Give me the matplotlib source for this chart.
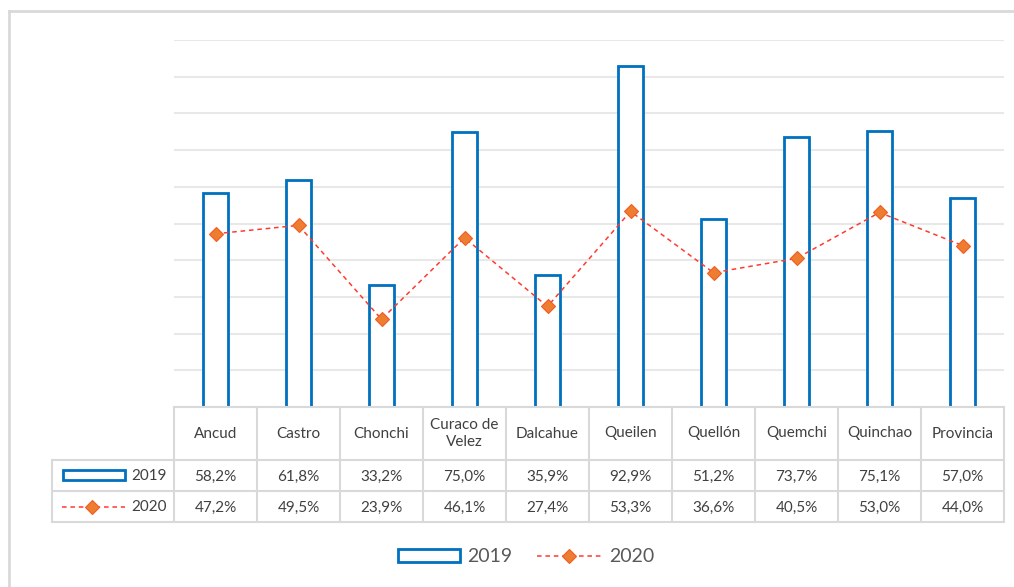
import matplotlib
matplotlib.use('Agg')
import matplotlib.pyplot as plt
from matplotlib.lines import Line2D
from matplotlib.patches import Rectangle
import matplotlib.transforms as mtrans

categories = ["Ancud", "Castro", "Chonchi", "Curaco de\nVelez", "Dalcahue",
              "Queilen", "Quellón", "Quemchi", "Quinchao", "Provincia"]
values_2019 = [58.2, 61.8, 33.2, 75.0, 35.9, 92.9, 51.2, 73.7, 75.1, 57.0]
values_2020 = [47.2, 49.5, 23.9, 46.1, 27.4, 53.3, 36.6, 40.5, 53.0, 44.0]
series_labels = ["2019", "2020"]

plt.rcParams['font.family'] = ['Lato', 'DejaVu Sans']

W, H = 1014, 587
fig = plt.figure(figsize=(W / 100, H / 100), dpi=100)


def fx(x):
    return x / W


def fy(y):
    return 1 - y / H


BLUE = '#0070C0'
LINE_RED = '#FF3B2F'
ORANGE = '#ED7D31'
GRID = '#e8e8e8'
TABLE = '#d9d9d9'
TXT = '#404040'

line_style = dict(linestyle=(0, (3, 2.5)), color=LINE_RED, lw=1.1)
marker_style = dict(marker='D', ms=7.5, mfc=ORANGE, mec='#F25C22', mew=0.8)

ax = fig.add_axes([fx(174), fy(407), fx(1004) - fx(174), fy(40) - fy(407)])
xs = list(range(len(categories)))
ax.bar(xs, values_2019, width=0.31, facecolor='white', edgecolor=BLUE,
       linewidth=2, zorder=3)
ax.plot(xs, values_2020, zorder=4, **line_style, **marker_style)
ax.set_xlim(-0.5, len(categories) - 0.5)
ax.set_ylim(0, 100)
ax.set_yticks(range(10, 101, 10))
ax.grid(axis='y', color=GRID, lw=1.5)
ax.set_axisbelow(True)
ax.tick_params(left=False, bottom=False, labelleft=False, labelbottom=False)
for s in ax.spines.values():
    s.set_visible(False)

# blended transform: x in data units, y in figure fraction
bt = mtrans.blended_transform_factory(ax.transData, fig.transFigure)

# Outer frame
fig.add_artist(Line2D([fx(9), fx(9)], [fy(11), 0], color=TABLE, lw=2))
fig.add_artist(Line2D([fx(9), 1], [fy(11), fy(11)], color=TABLE, lw=2))

# Table grid
y_top, y_h, y_r1, y_bot = 407, 460, 491, 522
n = len(categories)
for i in range(n + 1):
    xb = i - 0.5
    fig.add_artist(Line2D([xb, xb], [fy(y_top), fy(y_bot)], transform=bt,
                          color=TABLE, lw=1.5))
fig.add_artist(Line2D([-0.5, n - 0.5], [fy(y_top), fy(y_top)], transform=bt,
                      color=TABLE, lw=1.5))
for yy in (y_h, y_r1, y_bot):
    fig.add_artist(Line2D([fx(52), fx(1004)], [fy(yy), fy(yy)],
                          color=TABLE, lw=1.5))
fig.add_artist(Line2D([fx(52), fx(52)], [fy(y_h), fy(y_bot)],
                      color=TABLE, lw=1.5))

# Table text
for i, c in enumerate(categories):
    fig.text(i, fy((y_top + y_h) / 2), c, transform=bt, ha='center',
             va='center', fontsize=11, color=TXT, linespacing=1.25)
    fig.text(i, fy((y_h + y_r1) / 2 + 1), f"{values_2019[i]:.1f}%".replace('.', ','),
             transform=bt, ha='center', va='center', fontsize=11, color=TXT)
    fig.text(i, fy((y_r1 + y_bot) / 2 + 1), f"{values_2020[i]:.1f}%".replace('.', ','),
             transform=bt, ha='center', va='center', fontsize=11, color=TXT)

# Legend keys inside table
fig.add_artist(Rectangle((fx(63), fy(480)), fx(125) - fx(63), fy(470) - fy(480),
                         transform=fig.transFigure, facecolor='white',
                         edgecolor=BLUE, lw=2))
fig.text(fx(167), fy(476), series_labels[0], ha='right', va='center',
         fontsize=11, color=TXT)
fig.add_artist(Line2D([fx(62), fx(125)], [fy(507), fy(507)], **line_style))
fig.add_artist(Line2D([fx(92)], [fy(507)], linestyle='none', **marker_style))
fig.text(fx(167), fy(507), series_labels[1], ha='right', va='center',
         fontsize=11, color=TXT)

# Bottom legend
fig.add_artist(Rectangle((fx(398), fy(562)), fx(460) - fx(398), fy(549) - fy(562),
                         transform=fig.transFigure, facecolor='white',
                         edgecolor=BLUE, lw=2))
fig.text(fx(467), fy(556), series_labels[0], ha='left', va='center',
         fontsize=14, color='#595959')
fig.add_artist(Line2D([fx(537), fx(601)], [fy(556), fy(556)], **line_style))
fig.add_artist(Line2D([fx(569)], [fy(556)], linestyle='none', **marker_style))
fig.text(fx(609), fy(556), series_labels[1], ha='left', va='center',
         fontsize=14, color='#595959')

fig.savefig('out.png', dpi=100)
